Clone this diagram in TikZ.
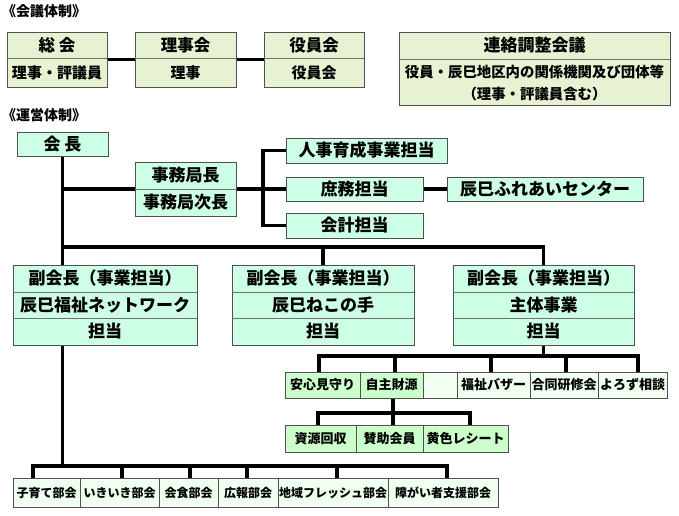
\documentclass[tikz,border=0pt]{standalone}
\usepackage{fontspec}
\setmainfont{Noto Sans CJK JP}
\usetikzlibrary{backgrounds}
\definecolor{bd}{HTML}{505050}
\definecolor{kaigi}{HTML}{E6F2D2}
\definecolor{mint}{HTML}{CCFFE6}
\definecolor{grn}{HTML}{CCFFCC}
\definecolor{pale}{HTML}{F0FFF0}
\definecolor{divc}{HTML}{707070}
\tikzset{
  conn/.style={line width=3.5pt, line cap=rect, draw=black},
  bx/.style={draw=bd, line width=1pt, inner sep=0pt, outer sep=0pt, anchor=north west},
  divl/.style={draw=divc, line width=1pt},
  fxl/.style={font=\fontsize{17}{17}\selectfont\bfseries},
  fl/.style={font=\fontsize{16.5}{16.5}\selectfont\bfseries},
  fm/.style={font=\fontsize{15}{15}\selectfont\bfseries},
  fsm/.style={font=\fontsize{14.4}{14.4}\selectfont\bfseries},
  fs/.style={font=\fontsize{13}{13}\selectfont\bfseries},
  fxs/.style={font=\fontsize{12}{12}\selectfont\bfseries},
  ft/.style={font=\fontsize{14}{14}\selectfont\bfseries, anchor=west, inner sep=0pt},
  tx/.style={inner sep=0pt},
}
% name, x1, y1, x2, y2, fill, style, text
\newcommand{\pbox}[8]{\node[bx, fill=#6, #7, minimum width={(#4-#2)*1pt}, minimum height={(#5-#3)*1pt}] (#1) at (#2,#3) {#8};}
\begin{document}
\begin{tikzpicture}[x=1pt, y=-1pt]
\useasboundingbox (0,0) rectangle (679,515);

% ---- titles
\node[ft] (title1) at (2,11) {《会議体制》};
\node[ft] (title2) at (2,115) {《運営体制》};

% ---- 会議体制
\pbox{sokai}{7}{32}{107}{87}{kaigi}{}{}
\draw[divl] (sokai.west |- 0,58) -- (sokai.east |- 0,58);
\node[tx, fl] (sokaiA) at (57,45) {総 会};
\node[tx, fm] (sokaiB) at (57,72.5) {理事・評議員};

\pbox{rijikai}{135}{32}{236}{87}{kaigi}{}{}
\draw[divl] (rijikai.west |- 0,58) -- (rijikai.east |- 0,58);
\node[tx, fl] (rijikaiA) at (185.5,45) {理事会};
\node[tx, fm] (rijikaiB) at (185.5,72.5) {理事};

\pbox{yakuin}{264}{32}{364}{87}{kaigi}{}{}
\draw[divl] (yakuin.west |- 0,58) -- (yakuin.east |- 0,58);
\node[tx, fl] (yakuinA) at (314,45) {役員会};
\node[tx, fm] (yakuinB) at (314,72.5) {役員会};

\pbox{renraku}{399}{32}{670}{105}{kaigi}{}{}
\draw[divl] (renraku.west |- 0,59) -- (renraku.east |- 0,59);
\node[tx, fxl] (renrakuA) at (534.5,45.5) {連絡調整会議};
\node[tx, fsm] (renrakuB) at (534.5,72) {役員・辰巳地区内の関係機関及び団体等};
\node[tx, fsm] (renrakuC) at (534.5,94) {（理事・評議員含む）};

% ---- 運営体制
\pbox{kaicho}{17}{132}{108}{156}{mint}{fxl}{会 長}

\pbox{jimu}{135}{162}{236}{216}{mint}{}{}
\draw[divl] (jimu.west |- 0,189) -- (jimu.east |- 0,189);
\node[tx, fxl] (jimuA) at (185.5,175.5) {事務局長};
\node[tx, fxl] (jimuB) at (185.5,202.5) {事務局次長};

\pbox{jinji}{286}{138}{447}{163}{mint}{fxl}{人事育成事業担当}
\pbox{shomu}{286}{177}{423}{201}{mint}{fxl}{庶務担当}
\pbox{fureai}{447}{177}{643}{201}{mint}{fxl}{辰巳ふれあいセンター}
\pbox{kaikei}{286}{213}{423}{238}{mint}{fxl}{会計担当}

% 副会長 boxes
\pbox{fuku1}{13}{265}{197}{345}{mint}{}{}
\draw[divl] (fuku1.west |- 0,292) -- (fuku1.east |- 0,292);
\draw[divl] (fuku1.west |- 0,318) -- (fuku1.east |- 0,318);
\node[tx, fxl] (fuku1A) at (105,278.5) {副会長（事業担当）};
\node[tx, fxl] (fuku1B) at (105,305) {辰巳福祉ネットワーク};
\node[tx, fxl] (fuku1C) at (105,331.5) {担当};

\pbox{fuku2}{232}{265}{414}{345}{mint}{}{}
\draw[divl] (fuku2.west |- 0,292) -- (fuku2.east |- 0,292);
\draw[divl] (fuku2.west |- 0,318) -- (fuku2.east |- 0,318);
\node[tx, fxl] (fuku2A) at (323,278.5) {副会長（事業担当）};
\node[tx, fxl] (fuku2B) at (323,305) {辰巳ねこの手};
\node[tx, fxl] (fuku2C) at (323,331.5) {担当};

\pbox{fuku3}{453}{265}{634}{345}{mint}{}{}
\draw[divl] (fuku3.west |- 0,292) -- (fuku3.east |- 0,292);
\draw[divl] (fuku3.west |- 0,318) -- (fuku3.east |- 0,318);
\node[tx, fxl] (fuku3A) at (543.5,278.5) {副会長（事業担当）};
\node[tx, fxl] (fuku3B) at (543.5,305) {主体事業};
\node[tx, fxl] (fuku3C) at (543.5,331.5) {担当};

% 主体事業 row
\pbox{anshin}{285}{372}{360}{398}{grn}{fs}{安心見守り}
\pbox{jishu}{360}{372}{423}{398}{grn}{fs}{自主財源}
\pbox{blank}{423}{372}{457}{398}{pale}{fs}{}
\pbox{bazaar}{457}{372}{530}{398}{pale}{fs}{福祉バザー}
\pbox{kenshu}{530}{372}{598}{398}{pale}{fs}{合同研修会}
\pbox{yorozu}{598}{372}{667}{398}{pale}{fs}{よろず相談}

% 自主財源 sub row
\pbox{shigen}{285}{425}{356}{452}{grn}{fs}{資源回収}
\pbox{sanjo}{356}{425}{423}{452}{grn}{fs}{賛助会員}
\pbox{kiiro}{423}{425}{508}{452}{grn}{fs}{黄色レシート}

% 部会 row
\pbox{bk1}{13}{478}{80}{507}{pale}{fxs}{子育て部会}
\pbox{bk2}{80}{478}{159}{507}{pale}{fxs}{いきいき部会}
\pbox{bk3}{159}{478}{218}{507}{pale}{fxs}{会食部会}
\pbox{bk4}{218}{478}{278}{507}{pale}{fxs}{広報部会}
\pbox{bk5}{278}{478}{388}{507}{pale}{fxs}{地域フレッシュ部会}
\pbox{bk6}{388}{478}{498}{507}{pale}{fxs}{障がい者支援部会}

% ---- connectors
\coordinate (sbus) at (263,0);
\coordinate (fbus) at (0,247);
\coordinate (r1) at (319,356);
\coordinate (r2) at (395,356);
\coordinate (r3) at (491,356);
\coordinate (r4) at (566,356);
\coordinate (r5) at (638,356);
\coordinate (s1) at (318,413);
\coordinate (s2) at (393,413);
\coordinate (s3) at (470,413);
\coordinate (b1) at (33,466);
\coordinate (b2) at (122,466);
\coordinate (b3) at (190,466);
\coordinate (b4) at (247,466);
\coordinate (b5) at (337,466);
\coordinate (b6) at (447,466);

\begin{pgfonlayer}{background}
\draw[conn] (sokai) -- (rijikai);
\draw[conn] (rijikai) -- (yakuin);
\draw[conn] (kaicho.south) -- (kaicho.south |- b1);
\draw[conn] (kaicho.south |- jimu.west) -- (jimu.west);
\draw[conn] (jimu.east) -- (shomu.west);
\draw[conn] (sbus |- jinji.west) -- (sbus |- kaikei.west);
\draw[conn] (sbus |- jinji.west) -- (jinji.west);
\draw[conn] (sbus |- kaikei.west) -- (kaikei.west);
\draw[conn] (shomu) -- (fureai);
\draw[conn] (kaicho.south |- fbus) -- (fuku3.north |- fbus) -- (fuku3.north);
\draw[conn] (fuku2.north) -- (fuku2.north |- fbus);
\draw[conn] (fuku3.south) -- (fuku3.south |- r1);
\draw[conn] (r1 |- anshin.north) -- (r1) -- (r5) -- (r5 |- yorozu.north);
\draw[conn] (r2) -- (r2 |- jishu.north);
\draw[conn] (r3) -- (r3 |- bazaar.north);
\draw[conn] (r4) -- (r4 |- kenshu.north);
\draw[conn] (s2 |- jishu.south) -- (s2);
\draw[conn] (s1 |- shigen.north) -- (s1) -- (s3) -- (s3 |- kiiro.north);
\draw[conn] (s2) -- (s2 |- sanjo.north);
\draw[conn] (b1 |- bk1.north) -- (b1) -- (b6) -- (b6 |- bk6.north);
\draw[conn] (b2) -- (b2 |- bk2.north);
\draw[conn] (b3) -- (b3 |- bk3.north);
\draw[conn] (b4) -- (b4 |- bk4.north);
\draw[conn] (b5) -- (b5 |- bk5.north);
\end{pgfonlayer}
\end{tikzpicture}
\end{document}
